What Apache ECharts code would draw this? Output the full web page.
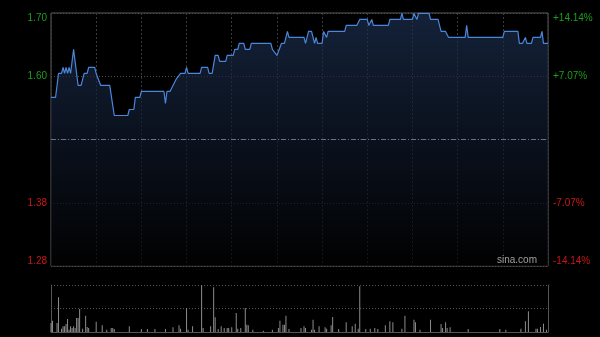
<!DOCTYPE html>
<html>
<head>
<meta charset="utf-8">
<script src="https://cdn.jsdelivr.net/npm/echarts@6/dist/echarts.min.js"></script>
<style>html,body{margin:0;padding:0;background:#000;}#c{width:600px;height:337px;}</style>
</head>
<body>
<div id="c"></div>
<script>
// previous close
const basePrice = 1.49;
// minutes since open (09:30), 330 = 16:00
const priceTimes = [0,3,5,7,8,9,10,11,12,13,15,18,20,22,24,25,29,30,31,33,39,42,51,52,55,56,59,60,75,76,77,79,81,83,86,89,90,91,99,100,104,105,107,109,111,112,116,117,121,122,124,125,128,129,132,133,146,147,148,150,153,155,157,158,168,169,171,173,175,176,177,180,181,183,184,195,196,203,205,210,211,213,214,224,225,232,233,234,240,241,243,244,251,252,257,259,262,264,275,276,277,300,301,310,311,313,315,316,319,320,325,326,327,330];
const prices = [1.56,1.56,1.60,1.60,1.61,1.60,1.61,1.60,1.61,1.60,1.64,1.58,1.58,1.60,1.60,1.61,1.61,1.60,1.60,1.58,1.58,1.53,1.53,1.54,1.54,1.56,1.56,1.57,1.57,1.55,1.57,1.57,1.58,1.59,1.60,1.60,1.61,1.60,1.60,1.61,1.61,1.60,1.60,1.63,1.63,1.62,1.62,1.63,1.63,1.64,1.64,1.65,1.65,1.64,1.64,1.65,1.65,1.64,1.64,1.63,1.65,1.65,1.67,1.66,1.66,1.65,1.67,1.67,1.65,1.66,1.65,1.65,1.67,1.66,1.67,1.67,1.68,1.68,1.69,1.69,1.68,1.69,1.68,1.68,1.69,1.69,1.70,1.69,1.69,1.70,1.69,1.70,1.70,1.69,1.69,1.67,1.67,1.66,1.66,1.68,1.66,1.66,1.67,1.67,1.65,1.65,1.66,1.65,1.65,1.66,1.66,1.67,1.65,1.65];
const volTimes = [0,1,4,5,7,8,9,10,11,12,13,14,15,16,17,18,19,21,23,24,25,30,34,37,40,41,42,52,60,64,69,76,81,85,86,90,91,94,100,101,106,108,109,111,113,115,117,118,120,123,124,126,129,130,131,134,141,147,151,152,154,155,156,158,166,168,169,173,174,175,178,182,183,186,187,191,196,200,202,204,205,209,212,215,217,222,225,227,233,235,241,242,245,252,259,260,262,263,265,277,298,302,312,315,317,322,323,325,327,329];
const volumes = [90,113,90,347,33,57,57,80,130,23,57,40,57,40,140,140,230,33,163,50,40,103,67,23,40,40,30,57,30,30,30,30,47,67,33,240,23,57,470,40,57,447,147,30,57,40,40,40,47,190,33,40,240,73,67,23,13,23,40,113,73,73,163,30,40,57,40,23,123,23,57,47,33,67,150,30,97,57,83,33,457,30,33,40,30,67,107,97,33,163,123,97,23,123,80,40,97,40,47,30,30,23,33,107,207,33,33,50,83,23];
// tick labels, bottom to top
const priceLabels = ['1.28','1.38','','1.60','1.70'];
const pctLabels = ['-14.14%','-7.07%','','+7.07%','+14.14%'];

const chart = echarts.init(document.getElementById('c'), null, {renderer:'canvas'});
const font = 'Liberation Sans, Arial, sans-serif';
const rich = {g:{color:'#1d9e1d', fontSize:10, fontFamily:font}, r:{color:'#cc1515', fontSize:10, fontFamily:font}};
function lab(arr){ return function(v,i){ const s = arr[i]; if(!s) return ''; return (i<2?'{r|':'{g|') + s + '}'; }; }

chart.setOption({
  backgroundColor:'#000',
  animation:false,
  grid:[
    {left:51, right:52, top:13, bottom:71, show:true, borderColor:'#5a5a5a', borderWidth:1},
    {left:51, right:52, top:285, bottom:5}
  ],
  xAxis:[
    {type:'value', gridIndex:0, min:0, max:330, interval:30, axisLine:{show:false}, axisTick:{show:false}, axisLabel:{show:false},
     splitLine:{show:true, lineStyle:{color:'#3c3c3c', type:[2,2], width:1}}},
    {type:'value', gridIndex:1, min:0, max:330, interval:30, axisLine:{show:true, lineStyle:{color:'#555'}}, axisTick:{show:false}, axisLabel:{show:false}, splitLine:{show:false}}
  ],
  yAxis:[
    {type:'value', gridIndex:0, min:-14.14, max:14.14, interval:7.07, axisLine:{show:false}, axisTick:{show:false},
     splitLine:{show:true, lineStyle:{color:'#4e4e4e', type:[1,2]}},
     axisLabel:{margin:4, formatter:lab(priceLabels), rich:rich, verticalAlignMaxLabel:'top', verticalAlignMinLabel:'bottom'}},
    {type:'value', gridIndex:0, position:'right', min:-14.14, max:14.14, interval:7.07, axisLine:{show:false}, axisTick:{show:false},
     splitLine:{show:false},
     axisLabel:{margin:5, formatter:lab(pctLabels), rich:rich, verticalAlignMaxLabel:'top', verticalAlignMinLabel:'bottom'}},
    {type:'value', gridIndex:1, min:0, max:470, interval:235, axisLine:{show:true, lineStyle:{color:'#555'}}, axisTick:{show:false}, axisLabel:{show:false},
     splitLine:{show:true, lineStyle:{color:'#555', type:[1,2]}}},
    {type:'value', gridIndex:1, position:'right', min:0, max:470, interval:235, axisLine:{show:true, lineStyle:{color:'#555'}}, axisTick:{show:false}, axisLabel:{show:false}, splitLine:{show:false}}
  ],
  graphic:[{type:'text', right:63, top:255, style:{text:'sina.com', fill:'#a0a0a0', font:'10px Liberation Sans, Arial, sans-serif'}, z:100}],
  series:[
    {type:'line', xAxisIndex:0, yAxisIndex:0, showSymbol:false, symbol:'none',
     data: priceTimes.map((t,i)=>[t, (prices[i]/basePrice-1)*100]),
     lineStyle:{color:'#4a86dc', width:1.2},
     areaStyle:{origin:'start', color:new echarts.graphic.LinearGradient(0,0,0,1,[{offset:0,color:'#1c2f50'},{offset:1,color:'#020203'}])},
     markLine:{silent:true, symbol:'none', label:{show:false}, lineStyle:{color:'#6a7384', type:[5,2,1,2], width:1}, data:[{yAxis:0}]}
    },
    {type:'bar', xAxisIndex:1, yAxisIndex:2, barWidth:1, data: volTimes.map((t,i)=>[t, volumes[i]]), itemStyle:{color:'#8c8c8c'}}
  ]
});
</script>
</body>
</html>
